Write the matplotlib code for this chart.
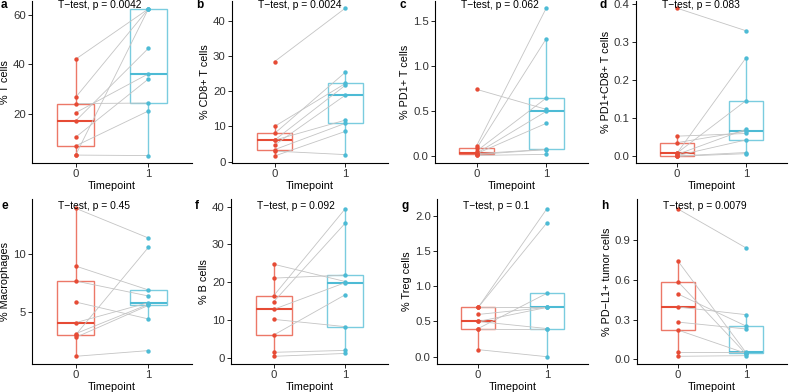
import matplotlib
matplotlib.use("Agg")
import matplotlib.pyplot as plt
import numpy as np

plt.rcParams['font.family'] = ['Liberation Sans', 'DejaVu Sans']

RED = '#E64B35'
BLUE = '#4DBBD5'
LINE = '#C4C4C4'

timepoints = ['0', '1']

# paired values: t0[i] belongs with t1[i]
t0_tcells = [42.1, 26.7, 24.2, 20.5, 17.2, 10.6, 7.1, 3.4, 3.4]
t1_tcells = [62.4, 62.4, 24.4, 36.2, 46.5, 34.1, 21.2, 62.4, 3.2]

t0_cd8 = [28.4, 10.0, 8.0, 6.1, 6.1, 4.7, 3.4, 3.0, 1.6]
t1_cd8 = [43.6, 22.2, 25.4, 21.7, 11.8, 18.9, 10.9, 2.0, 8.6]

t0_pd1 = [0.744, 0.12, 0.09, 0.06, 0.035, 0.03, 0.03, 0.02, 0.01]
t1_pd1 = [0.522, 1.648, 1.307, 0.648, 0.5, 0.367, 0.078, 0.075, 0.022]

t0_pd1cd8 = [0.389, 0.053, 0.036, 0.009, 0.009, 0.005, 0.002, 0.001, 0.0]
t1_pd1cd8 = [0.33, 0.060, 0.066, 0.258, 0.146, 0.071, 0.043, 0.010, 0.007]

t0_macro = [13.97, 8.99, 7.70, 5.89, 4.11, 3.16, 3.05, 2.84, 1.21]
t1_macro = [11.41, 6.93, 6.41, 4.43, 5.83, 5.69, 10.6, 5.6, 1.70]

t0_bcells = [24.76, 21.1, 16.5, 14.9, 12.86, 10.2, 6.08, 1.5, 0.44]
t1_bcells = [20.2, 21.9, 39.4, 35.6, 19.9, 8.28, 16.7, 2.0, 1.2]

t0_treg = [0.7, 0.7, 0.7, 0.6, 0.5, 0.5, 0.4, 0.4, 0.1]
t1_treg = [2.1, 1.9, 0.7, 0.7, 0.4, 0.7, 0.9, 0.4, 0.0]

t0_pdl1 = [1.134, 0.742, 0.586, 0.493, 0.395, 0.281, 0.221, 0.055, 0.023]
t1_pdl1 = [0.84, 0.05, 0.04, 0.251, 0.337, 0.229, 0.045, 0.055, 0.028]

letters = ['a', 'b', 'c', 'd', 'e', 'f', 'g', 'h']
ylabels = ['% T cells', '% CD8+ T cells', '% PD1+ T cells', '% PD1+CD8+ T cells',
           '% Macrophages', '% B cells', '% Treg cells', '% PD\u2212L1+ tumor cells']
pvalues = ['0.0042', '0.0024', '0.062', '0.083', '0.45', '0.092', '0.1', '0.0079']

series = [(t0_tcells, t1_tcells), (t0_cd8, t1_cd8), (t0_pd1, t1_pd1),
          (t0_pd1cd8, t1_pd1cd8), (t0_macro, t1_macro), (t0_bcells, t1_bcells),
          (t0_treg, t1_treg), (t0_pdl1, t1_pdl1)]

# layout (pixels) and axis settings
W, H = 794, 392
lefts = [32, 232, 435, 636, 32, 231, 437, 637]
rights = [192, 388, 588, 787, 192, 388, 588, 787]
row_top = [1, 199]
row_bot = [163, 364]
ylims = [(0.2, 65.6), (-0.38, 45.6), (-0.074, 1.726), (-0.0175, 0.408),
         (0.546, 14.77), (-1.59, 42.0), (-0.104, 2.24), (-0.035, 1.209)]
yticks = [[20, 40, 60], [0, 10, 20, 30, 40], [0, 0.5, 1.0, 1.5],
          [0, 0.1, 0.2, 0.3, 0.4], [5, 10], [0, 10, 20, 30, 40],
          [0, 0.5, 1.0, 1.5, 2.0], [0, 0.3, 0.6, 0.9]]
yfmt = ['{:.0f}', '{:.0f}', '{:.1f}', '{:.1f}', '{:.0f}', '{:.0f}', '{:.1f}', '{:.1f}']

fig = plt.figure(figsize=(W / 100, H / 100), dpi=100)

for i in range(8):
    r = i // 4
    l, rt = lefts[i], rights[i]
    top, bot = row_top[r], row_bot[r]
    ax = fig.add_axes([l / W, 1 - bot / H, (rt - l) / W, (bot - top) / H])
    t0, t1 = series[i]

    # boxes
    for k, (vals, col) in enumerate([(t0, RED), (t1, BLUE)]):
        ax.boxplot([vals], positions=[k], widths=0.5, whis=1.5,
                   showfliers=False, patch_artist=True,
                   boxprops=dict(facecolor='white', edgecolor=col, linewidth=1.0, alpha=0.75),
                   whiskerprops=dict(color=col, linewidth=1.0, alpha=0.75),
                   capprops=dict(linewidth=0),
                   medianprops=dict(color=col, linewidth=1.5))
    # paired lines
    for a, b in zip(t0, t1):
        ax.plot([0, 1], [a, b], color=LINE, lw=0.6, zorder=3)
    ax.scatter(np.zeros(len(t0)), t0, s=10, color=RED, zorder=4, linewidths=0)
    ax.scatter(np.ones(len(t1)), t1, s=10, color=BLUE, zorder=4, linewidths=0)

    ax.set_xlim(-0.6, 1.6)
    ax.set_ylim(*ylims[i])
    ax.set_xticks([0, 1])
    ax.set_xticklabels(timepoints)
    ax.set_yticks(yticks[i])
    ax.set_yticklabels([yfmt[i].format(v) for v in yticks[i]])
    for s in ['top', 'right']:
        ax.spines[s].set_visible(False)
    for s in ['left', 'bottom']:
        ax.spines[s].set_linewidth(0.8)
    ax.tick_params(axis='both', labelsize=8.2, length=3, width=0.7, pad=1.5,
                   colors='#222222', labelcolor='#333333')
    ax.set_xlabel('Timepoint', fontsize=7.8, labelpad=1)
    ax.set_ylabel(ylabels[i], fontsize=7.8, labelpad=2)

    ty = 5 if r == 0 else 206
    fig.text((l + 26) / W, 1 - ty / H, 'T\u2212test, p = ' + pvalues[i],
             fontsize=7.4, ha='left', va='center')
    fig.text((l - 31 if i % 4 == 0 else l - 36) / W, 1 - ty / H, letters[i],
             fontsize=8.5, fontweight='bold', ha='left', va='center')

fig.savefig('out.png', dpi=100, facecolor='white')
